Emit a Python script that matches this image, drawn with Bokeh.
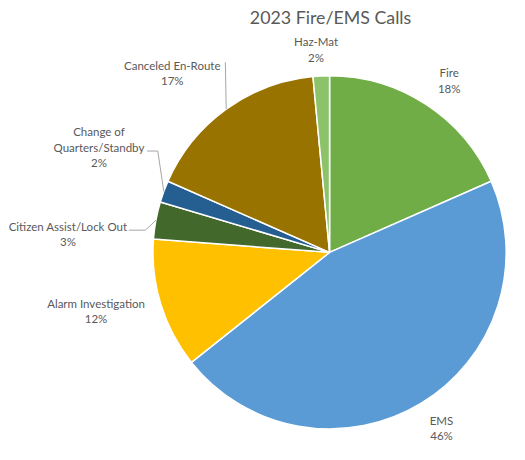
import numpy as np
from bokeh.plotting import figure
from bokeh.models import Range1d, ColumnDataSource
from bokeh.embed import file_html
from bokeh.resources import INLINE
from bokeh.core.properties import value

# ---- data ----
title_text = "2023 Fire/EMS Calls"
categories = ["Fire", "EMS", "Alarm Investigation", "Citizen Assist/Lock Out",
              "Change of Quarters/Standby", "Canceled En-Route", "Haz-Mat"]
percents = [18.4, 45.9, 11.9, 3.4, 2.0, 16.9, 1.5]
colors = ["#70AD47", "#5B9BD5", "#FFC000", "#43682B", "#255E91", "#997300", "#8BC26A"]

# ---- layout ----
W, H = 509, 444
S = 0.965  # layout scale so the whole chart fits the page
def X(sx): return sx * S
def Y(sy): return H - sy * S

FONT = value("Lato")
TXT = "#595959"
LINE = "#A6A6A6"

p = figure(width=W, height=H, x_range=Range1d(0, W), y_range=Range1d(0, H),
           output_backend="svg", toolbar_location=None, min_border=0)
p.axis.visible = False
p.grid.visible = False
p.outline_line_color = None
p.background_fill_color = "white"
p.border_fill_color = "white"

cx, cy, r = X(341), Y(261), 183 * S

vals = np.array(percents, dtype=float)
frac = vals / vals.sum()
cum = np.concatenate([[0.0], np.cumsum(frac)])
start = np.pi / 2 - 2 * np.pi * cum[:-1]
end = np.pi / 2 - 2 * np.pi * cum[1:]
mid = (start + end) / 2

src = ColumnDataSource(dict(start=start, end=end, color=colors))
p.wedge(x=cx, y=cy, radius=r, start_angle="start", end_angle="end",
        direction="clock", fill_color="color", line_color="white",
        line_width=1.5, source=src)

# label layout: (x center, y of first line), line texts
label_layout = {
    "Fire": (465, 75, ["Fire"]),
    "EMS": (457, 435, ["EMS"]),
    "Alarm Investigation": (99, 314, ["Alarm Investigation"]),
    "Citizen Assist/Lock Out": (70, 234, ["Citizen Assist/Lock Out"]),
    "Change of Quarters/Standby": (102, 136, ["Change of", "Quarters/Standby"]),
    "Canceled En-Route": (178, 67, ["Canceled En-Route"]),
    "Haz-Mat": (327, 43, ["Haz-Mat"]),
}
LH = 16
tx, ty, tt = [], [], []
for cat, v in zip(categories, percents):
    lx, ly, lines = label_layout[cat]
    for i, s in enumerate(lines + [f"{v:.0f}%"]):
        tx.append(X(lx)); ty.append(Y(ly + i * LH)); tt.append(s)
p.text(x=tx, y=ty, text=tt, text_font=FONT, text_font_size="11.5px",
       text_color=TXT, text_align="center", text_baseline="middle")

# leader lines: from label side to the slice's mid-point on the rim
leader_starts = {
    "Canceled En-Route": [(233, 64)],
    "Change of Quarters/Standby": [(152, 156), (163, 156)],
    "Citizen Assist/Lock Out": [(133, 238), (150, 238)],
}
xs, ys = [], []
for i, cat in enumerate(categories):
    if cat in leader_starts:
        pts = leader_starts[cat]
        lx = [X(a) for a, b in pts] + [cx + r * np.cos(mid[i])]
        ly = [Y(b) for a, b in pts] + [cy + r * np.sin(mid[i])]
        xs.append(lx); ys.append(ly)
p.multi_line(xs=xs, ys=ys, line_color=LINE, line_width=1)

# title
p.text(x=[X(342)], y=[Y(17)], text=[title_text], text_font=FONT,
       text_font_size="17.8px", text_color=TXT, text_align="center",
       text_baseline="middle")

open("out.html", "w").write(file_html(p, INLINE))
